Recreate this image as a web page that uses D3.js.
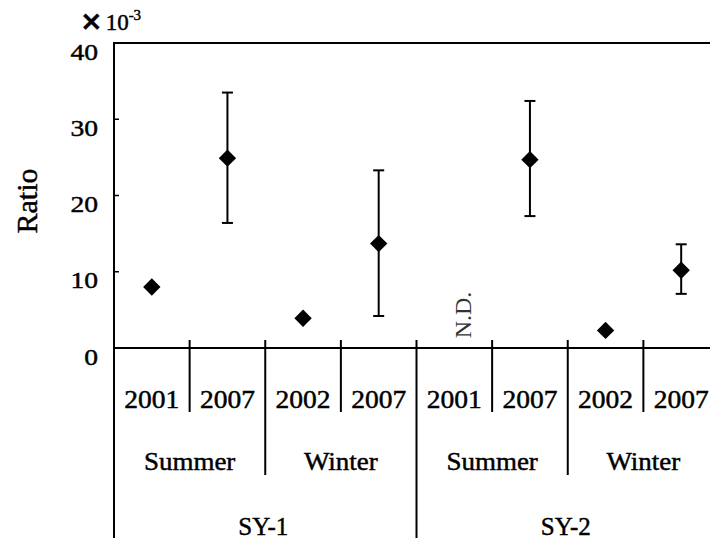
<!DOCTYPE html>
<html>
<head>
<meta charset="utf-8">
<script src="https://cdn.jsdelivr.net/npm/d3@7"></script>
<style>
  html, body { margin: 0; padding: 0; background: #fff; }
  svg { display: block; }
  text { stroke: #000; stroke-width: 0.45; }
</style>
</head>
<body>
<svg id="chart" width="710" height="546" font-family="'Liberation Serif', 'DejaVu Serif', 'Times New Roman', serif"></svg>
<script>
// ---- data ----
const categoryIndex = [0, 1, 2, 3, 4, 5, 6, 7];
const years = ["2001", "2007", "2002", "2007", "2001", "2007", "2002", "2007"];
const seasons = ["Summer", "Winter", "Summer", "Winter"];
const sites = ["SY-1", "SY-2"];
const ratio = [8.0, 24.9, 3.9, 13.7, null, 24.7, 2.3, 10.2];
const errLow = [null, 16.4, null, 4.2, null, 17.3, null, 7.1];
const errHigh = [null, 33.5, null, 23.3, null, 32.4, null, 13.6];
const notDetected = [false, false, false, false, true, false, false, false];
const yTicks = [0, 10, 20, 30, 40];

// ---- layout ----
const svg = d3.select("#chart");
const axisX = 114, plotTop = 43, plotBottom = 348;
const x = d3.scaleBand().domain(categoryIndex).range([axisX, 719]).padding(0);
const y = d3.scaleLinear().domain([0, 40]).range([plotBottom, plotTop]);
const bw = x.bandwidth();
const cx = i => x(i) + bw / 2;

const line = (x1, y1, x2, y2, w = 2) =>
  svg.append("line").attr("x1", x1).attr("y1", y1).attr("x2", x2).attr("y2", y2)
    .attr("stroke", "#000").attr("stroke-width", w);

// frame: left axis (extends down through the category table), top line, x axis
line(axisX, plotTop - 1, axisX, 538);
line(axisX - 1, plotTop, 710, plotTop);
line(axisX - 1, plotBottom, 710, plotBottom);

// y ticks (inward) and labels
yTicks.forEach(t => {
  if (t !== 0 && t !== 40) line(axisX, y(t), axisX + 5, y(t), 1.5);
  svg.append("text")
    .attr("transform", `translate(98,${y(t) + 16.5}) scale(1.15,1)`)
    .attr("text-anchor", "end")
    .attr("font-size", 24)
    .text(t);
});

// multiplier
const mult = svg.append("text").attr("x", 80).attr("y", 30).attr("font-size", 23);
mult.append("tspan").attr("font-weight", "bold").attr("font-family", "'DejaVu Sans', sans-serif").attr("font-size", 27).text("×");
mult.append("tspan").attr("dx", 3).text("10");
mult.append("tspan").attr("dy", -10).attr("font-size", 15).text("-3");

// y axis title
svg.append("text")
  .attr("transform", "translate(37,201) rotate(-90)")
  .attr("text-anchor", "middle")
  .attr("font-size", 30)
  .text("Ratio");

// category table separators
categoryIndex.forEach(i => {
  if (i === 0) return;
  const xs = x(i);
  let yEnd;
  if (i % 4 === 0) yEnd = 538;        // site boundary
  else if (i % 2 === 0) yEnd = 475;   // season boundary
  else yEnd = 412;                    // year boundary
  line(xs, 340, xs, yEnd);
});

// year labels
categoryIndex.forEach(i => {
  svg.append("text")
    .attr("transform", `translate(${cx(i)},408) scale(1.1,1)`)
    .attr("text-anchor", "middle")
    .attr("font-size", 25)
    .text(years[i]);
});

// season labels
seasons.forEach((s, j) => {
  const xm = (x(j * 2) + x(j * 2 + 1) + bw) / 2;
  svg.append("text")
    .attr("transform", `translate(${xm},470) scale(1.08,1)`)
    .attr("text-anchor", "middle")
    .attr("font-size", 25)
    .text(s);
});

// site labels
sites.forEach((s, k) => {
  const xm = (x(k * 4) + x(k * 4 + 3) + bw) / 2 - 2;
  svg.append("text")
    .attr("transform", `translate(${xm},535)`)
    .attr("text-anchor", "middle")
    .attr("font-size", 25)
    .text(s);
});

// error bars
categoryIndex.forEach(i => {
  if (errLow[i] == null) return;
  const c = cx(i);
  line(c, y(errLow[i]), c, y(errHigh[i]), 2);
  line(c - 5.5, y(errLow[i]), c + 5.5, y(errLow[i]), 2);
  line(c - 5.5, y(errHigh[i]), c + 5.5, y(errHigh[i]), 2);
});

// diamonds
const diamond = d3.symbol().type(d3.symbolSquare).size(150);
categoryIndex.forEach(i => {
  if (ratio[i] == null) return;
  svg.append("path")
    .attr("d", diamond())
    .attr("transform", `translate(${cx(i)},${y(ratio[i])}) rotate(45)`)
    .attr("fill", "#000");
});

// N.D. markers
categoryIndex.forEach(i => {
  if (!notDetected[i]) return;
  svg.append("text")
    .attr("transform", `translate(${cx(i) + 17},315) rotate(-90)`)
    .attr("text-anchor", "middle")
    .attr("font-size", 24)
    .attr("fill", "#333")
    .style("stroke", "none")
    .text("N.D.");
});
</script>
</body>
</html>
